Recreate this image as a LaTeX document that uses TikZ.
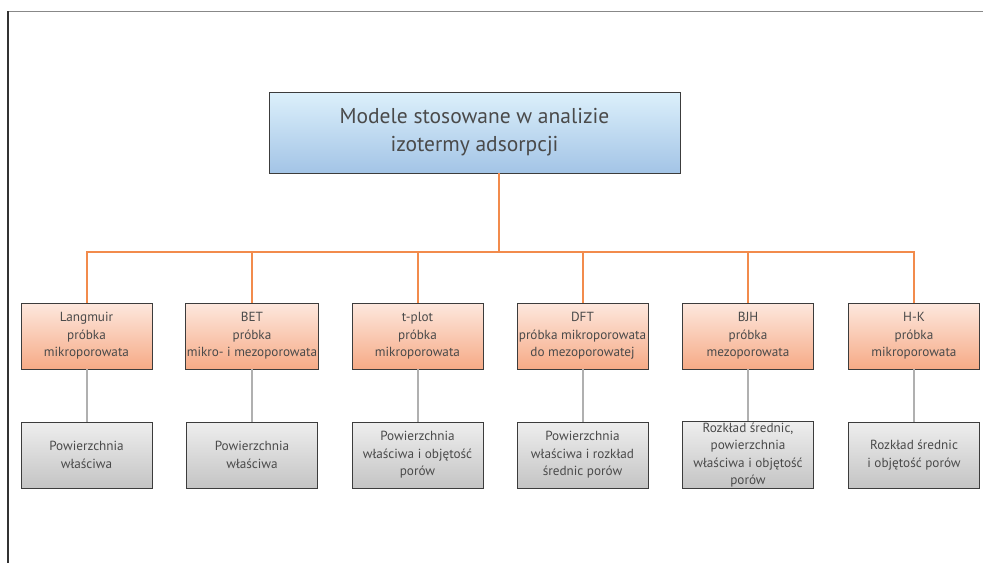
\documentclass[tikz,border=0pt]{standalone}
\usepackage{fontspec}
\setmainfont{PT Sans}
\definecolor{txt}{HTML}{4A4A4A}
\definecolor{org}{HTML}{F28B4C}
\definecolor{conn}{HTML}{B0B0B0}
\definecolor{bordr}{HTML}{3C3C3C}
\begin{document}
\begin{tikzpicture}[x=1pt,y=-1pt,
  basebox/.style={rectangle,draw=bordr,line width=0.9pt,inner sep=1pt,align=center,text=txt,
    minimum width=131pt,minimum height=66pt,font=\fontsize{13.2}{17.5}\selectfont},
  topbox/.style={rectangle,draw=bordr,line width=0.9pt,align=center,text=txt,
    minimum width=411pt,minimum height=81pt,top color={rgb,255:red,220;green,240;blue,251},
    bottom color={rgb,255:red,163;green,196;blue,230},font=\fontsize{21.5}{28}\selectfont},
  method/.style={basebox,top color={rgb,255:red,253;green,232;blue,222},bottom color={rgb,255:red,246;green,170;blue,134}},
  result/.style={basebox,top color={rgb,255:red,238;green,238;blue,238},bottom color={rgb,255:red,196;green,196;blue,196}},
  orangeline/.style={draw=org,line width=2pt},
  greyline/.style={draw=conn,line width=2pt}]
\useasboundingbox (0,0) rectangle (983,563);
\draw[draw={rgb,255:red,136;green,136;blue,136},line width=1.4pt] (8,11.5) -- (983,11.5);
\draw[draw={rgb,255:red,50;green,50;blue,50},line width=1.2pt] (8,11) -- (8,563);

\node[topbox] (top) at (474.5,132.5) {Modele stosowane w analizie\\izotermy adsorpcji};

\node[method] (m1) at (86.5,336) {Langmuir\\próbka\\mikroporowata};
\node[method] (m2) at (252,336) {BET\\próbka\\mikro- i mezoporowata};
\node[method] (m3) at (417.5,336) {t-plot\\próbka\\mikroporowata};
\node[method] (m4) at (582.5,336) {DFT\\próbka mikroporowata\\do mezoporowatej};
\node[method] (m5) at (748,336) {BJH\\próbka\\mezoporowata};
\node[method] (m6) at (914,336) {H-K\\próbka\\mikroporowata};

\node[result] (r1) at (86.5,455) {Powierzchnia\\właściwa};
\node[result] (r2) at (252,455) {Powierzchnia\\właściwa};
\node[result] (r3) at (417.5,455) {Powierzchnia\\właściwa i objętość\\porów};
\node[result] (r4) at (582.5,455) {Powierzchnia\\właściwa i rozkład\\średnic porów};
\node[result] (r5) at (748,455) {Rozkład średnic,\\powierzchnia\\właściwa i objętość\\porów};
\node[result] (r6) at (914,455) {Rozkład średnic\\i objętość porów};

\coordinate (bus) at (499,252);
\draw[orangeline] (top.south -| bus) -- (bus);
\foreach \i in {1,...,6}{
  \draw[orangeline] (m\i.north) |- (bus);
  \draw[greyline] (m\i.south) -- (r\i.north);
}
\end{tikzpicture}
\end{document}
